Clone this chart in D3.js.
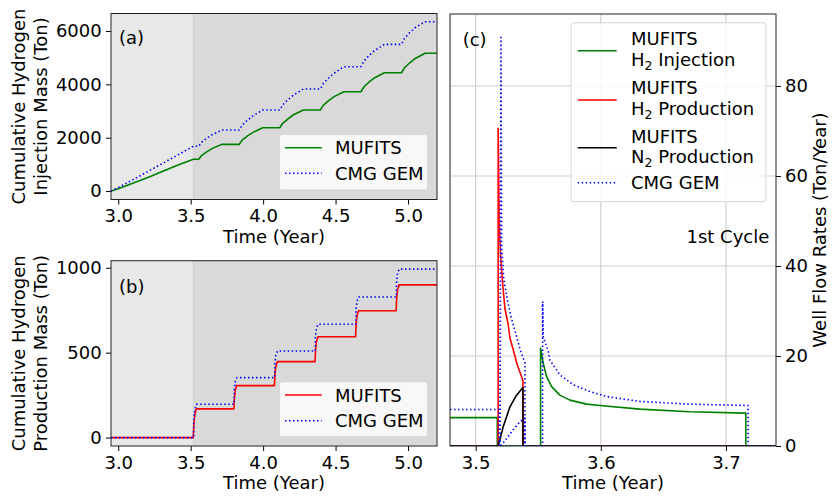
<!DOCTYPE html>
<html><head><meta charset="utf-8">
<script src="https://cdn.jsdelivr.net/npm/d3@7"></script>
<style>
body{margin:0;background:#fff}
svg{font-family:"DejaVu Sans",sans-serif}
</style></head><body>
<svg id="c" width="832" height="502"></svg>
<script>
// ---------- DATA ----------
const shadeStart = 3.518;
const ticksAB_x = [3.0, 3.5, 4.0, 4.5, 5.0];
const ticksA_y = [0, 2000, 4000, 6000];
const ticksB_y = [0, 500, 1000];
const ticksC_x = [3.5, 3.6, 3.7];
const ticksC_y = [0, 20, 40, 60, 80];

// (a) cumulative H2 injection mass (Ton)
const aMufits = [[2.95,0],[3.0,85],[3.1,290],[3.2,500],[3.3,720],[3.4,950],[3.518,1190],
 [3.555,1190],[3.575,1330],[3.61,1470],[3.65,1600],[3.717,1751],
 [3.835,1751],[3.855,1905],[3.89,2060],[3.93,2200],[3.997,2374],
 [4.115,2374],[4.135,2540],[4.17,2700],[4.21,2860],[4.277,3037],
 [4.395,3037],[4.415,3210],[4.45,3380],[4.49,3540],[4.557,3724],
 [4.675,3724],[4.695,3900],[4.73,4080],[4.77,4250],[4.837,4436],
 [4.955,4436],[4.975,4620],[5.01,4800],[5.05,4970],[5.117,5164],[5.2,5164]];
const aCmg = [[2.95,0],[3.0,130],[3.1,420],[3.2,720],[3.3,1020],[3.4,1320],[3.519,1680],
 [3.555,1680],[3.575,1830],[3.61,1980],[3.65,2120],[3.717,2287],
 [3.835,2287],[3.855,2470],[3.89,2650],[3.93,2820],[3.997,3037],
 [4.115,3037],[4.135,3230],[4.17,3420],[4.21,3600],[4.277,3825],
 [4.395,3825],[4.415,4030],[4.45,4230],[4.49,4420],[4.557,4662],
 [4.675,4662],[4.695,4870],[4.73,5080],[4.77,5270],[4.837,5501],
 [4.955,5501],[4.975,5720],[5.01,5930],[5.05,6130],[5.117,6349],[5.2,6349]];

// (b) cumulative H2 production mass (Ton)
const bMufits = [[2.95,0],[3.518,0],[3.522,80],[3.528,130],[3.538,169],
 [3.798,169],[3.802,235],[3.808,280],[3.818,306],
 [4.078,306],[4.082,375],[4.088,420],[4.098,447],
 [4.358,447],[4.362,520],[4.368,565],[4.378,594],
 [4.638,594],[4.642,670],[4.648,718],[4.658,747],
 [4.918,747],[4.922,825],[4.928,870],[4.938,899],[5.2,899]];
const bCmg = [[2.95,0],[3.52,0],[3.521,100],[3.528,160],[3.539,196],
 [3.80,196],[3.801,280],[3.808,330],[3.819,353],
 [4.08,353],[4.081,435],[4.088,485],[4.099,510],
 [4.36,510],[4.361,595],[4.368,645],[4.379,667],
 [4.64,667],[4.641,755],[4.648,805],[4.659,828],
 [4.92,828],[4.921,915],[4.928,968],[4.939,992],[5.2,992]];

// (c) well flow rates (Ton/Year), 1st cycle
const cMufitsH2Inj = [[3.4795,6.3],[3.5173,6.3],[3.5173,0],[3.5519,0],[3.5519,21.7],[3.554,18.4],
 [3.5567,15.4],[3.5607,13.2],[3.5673,11.3],[3.5753,10.2],[3.5887,9.3],[3.5993,9.0],
 [3.6312,8.2],[3.6711,7.6],[3.7159,7.3],[3.7159,0],[3.74,0]];
const cMufitsH2Prod = [[3.4795,0],[3.518,0],[3.518,70.6],[3.5188,50],[3.52,42],[3.5216,36],
 [3.5234,30.5],[3.526,27],[3.5274,24],[3.5314,20],[3.5327,18.5],[3.5367,15.4],[3.5378,14.5],
 [3.5378,0],[3.74,0]];
const cMufitsN2Prod = [[3.4795,0],[3.518,0],[3.5195,1.5],[3.522,4.3],[3.5274,8.7],[3.5327,11.3],
 [3.5378,13.0],[3.5378,0],[3.74,0]];
const cCmgH2Inj = [[3.4795,8.1],[3.5186,8.1],[3.5186,0],[3.5535,0],[3.5535,32.1],[3.554,24.3],
 [3.558,21],[3.5593,19.1],[3.5673,15.8],[3.578,13.6],[3.5913,12.1],[3.6046,11.0],
 [3.6312,9.9],[3.6711,9.3],[3.7177,9.0],[3.7177,0],[3.74,0]];
const cCmgH2Prod = [[3.5195,0],[3.5202,90.8],[3.5208,44],[3.5225,37],[3.525,33],[3.528,29],
 [3.532,25],[3.5355,21.5],[3.5394,18.5],[3.5394,0]];
const cCmgN2Prod = [[3.5202,0],[3.5248,1.7],[3.53,3.6],[3.5354,5.4],[3.5394,6.2],[3.5394,0]];

// ---------- DRAW ----------
const svg = d3.select("#c");
const FS = 18;
const GREEN = "#008000", RED = "#ff0000", BLUE = "#0000ff";
const DOT = "1.5,2.5";

function clip(id, x0, y0, x1, y1) {
  svg.append("clipPath").attr("id", id).append("rect")
    .attr("x", x0).attr("y", y0).attr("width", x1 - x0).attr("height", y1 - y0);
}
function drawLine(g, data, x, y, color, dash) {
  g.append("path").datum(data)
    .attr("d", d3.line().x(d => x(d[0])).y(d => y(d[1])))
    .attr("fill", "none").attr("stroke", color).attr("stroke-width", 1.6)
    .attr("stroke-dasharray", dash || null).attr("stroke-linejoin", "round");
}
function styleAxis(g) {
  g.select(".domain").remove();
  g.selectAll(".tick line").attr("stroke", "#000").attr("stroke-width", 1);
  g.selectAll(".tick text").attr("font-size", FS).attr("fill", "#000")
    .attr("font-family", "DejaVu Sans");
}
function spine(x0, y0, x1, y1) {
  svg.append("rect").attr("x", x0).attr("y", y0).attr("width", x1 - x0).attr("height", y1 - y0)
    .attr("fill", "none").attr("stroke", "#222").attr("stroke-width", 1);
}
function legend(x0, y0, x1, y1) {
  svg.append("rect").attr("x", x0).attr("y", y0).attr("width", x1 - x0).attr("height", y1 - y0)
    .attr("rx", 3).attr("fill", "#ffffff").attr("fill-opacity", 0.8)
    .attr("stroke", "#d6d6d6").attr("stroke-width", 1);
}
function handle(x0, x1, y, color, dash) {
  svg.append("line").attr("x1", x0).attr("x2", x1).attr("y1", y).attr("y2", y)
    .attr("stroke", color).attr("stroke-width", 1.6).attr("stroke-dasharray", dash || null);
}
function txt(x, y, s, anchor) {
  return svg.append("text").attr("x", x).attr("y", y).attr("font-size", FS)
    .attr("text-anchor", anchor || "start").attr("fill", "#000").text(s);
}
function subTxt(x, y, main, sub, rest) {
  const t = svg.append("text").attr("x", x).attr("y", y).attr("font-size", FS).attr("fill", "#000");
  t.append("tspan").text(main);
  t.append("tspan").attr("font-size", FS * 0.7).attr("dy", 4).text(sub);
  t.append("tspan").attr("dy", -4).text(rest);
  return t;
}
function ylab2(cx, cy, l1, l2) {
  const t = svg.append("text").attr("transform", `translate(${cx},${cy}) rotate(-90)`)
    .attr("font-size", FS).attr("text-anchor", "middle").attr("fill", "#000");
  t.append("tspan").attr("x", 0).attr("y", 0).text(l1);
  t.append("tspan").attr("x", 0).attr("y", 21.6).text(l2);
}

// ===== Panel (a) =====
const A = {l: 111, r: 437, t: 13.5, b: 199.5};
const xA = d3.scaleLinear().domain([2.95, 5.2]).range([A.l, A.r]);
const yA = d3.scaleLinear().domain([-317, 6657]).range([A.b, A.t]);
svg.append("rect").attr("x", A.l).attr("y", A.t).attr("width", xA(shadeStart) - A.l).attr("height", A.b - A.t).attr("fill", "#e8e8e8");
svg.append("rect").attr("x", xA(shadeStart)).attr("y", A.t).attr("width", A.r - xA(shadeStart)).attr("height", A.b - A.t).attr("fill", "#d9d9d9");
svg.append("line").attr("x1", xA(shadeStart)).attr("x2", xA(shadeStart)).attr("y1", A.t).attr("y2", A.b).attr("stroke", "#cfcfcf").attr("stroke-width", 1);
clip("clipA", A.l, A.t, A.r, A.b);
const gA = svg.append("g").attr("clip-path", "url(#clipA)");
drawLine(gA, aMufits, xA, yA, GREEN);
drawLine(gA, aCmg, xA, yA, BLUE, DOT);
svg.append("g").attr("transform", `translate(0,${A.b})`)
  .call(d3.axisBottom(xA).tickValues(ticksAB_x).tickFormat(d3.format(".1f")).tickSize(5).tickPadding(5)).call(styleAxis);
svg.append("g").attr("transform", `translate(${A.l},0)`)
  .call(d3.axisLeft(yA).tickValues(ticksA_y).tickFormat(d3.format("d")).tickSize(5).tickPadding(4.3)).call(styleAxis);
spine(A.l, A.t, A.r, A.b);
legend(279.3, 134.3, 427.7, 190);
handle(285, 321.7, 147.7, GREEN);
handle(285, 321.7, 173.3, BLUE, DOT);
txt(335, 154.3, "MUFITS");
txt(335, 180, "CMG GEM");
txt(119, 44, "(a)");
txt((A.l + A.r) / 2, A.b + 43, "Time (Year)", "middle");
ylab2(25, (A.t + A.b) / 2, "Cumulative Hydrogen", "Injection Mass (Ton)");

// ===== Panel (b) =====
const B = {l: 111, r: 437, t: 260.7, b: 446};
const xB = d3.scaleLinear().domain([2.95, 5.2]).range([B.l, B.r]);
const yB = d3.scaleLinear().domain([-49.6, 1041.6]).range([B.b, B.t]);
svg.append("rect").attr("x", B.l).attr("y", B.t).attr("width", xB(shadeStart) - B.l).attr("height", B.b - B.t).attr("fill", "#e8e8e8");
svg.append("rect").attr("x", xB(shadeStart)).attr("y", B.t).attr("width", B.r - xB(shadeStart)).attr("height", B.b - B.t).attr("fill", "#d9d9d9");
svg.append("line").attr("x1", xB(shadeStart)).attr("x2", xB(shadeStart)).attr("y1", B.t).attr("y2", B.b).attr("stroke", "#cfcfcf").attr("stroke-width", 1);
clip("clipB", B.l, B.t, B.r, B.b);
const gB = svg.append("g").attr("clip-path", "url(#clipB)");
drawLine(gB, bMufits, xB, yB, RED);
drawLine(gB, bCmg, xB, yB, BLUE, DOT);
svg.append("g").attr("transform", `translate(0,${B.b})`)
  .call(d3.axisBottom(xB).tickValues(ticksAB_x).tickFormat(d3.format(".1f")).tickSize(5).tickPadding(5)).call(styleAxis);
svg.append("g").attr("transform", `translate(${B.l},0)`)
  .call(d3.axisLeft(yB).tickValues(ticksB_y).tickFormat(d3.format("d")).tickSize(5).tickPadding(4.3)).call(styleAxis);
spine(B.l, B.t, B.r, B.b);
legend(279.3, 381.7, 427.7, 436.7);
handle(285, 321.7, 395, RED);
handle(285, 321.7, 420.7, BLUE, DOT);
txt(335, 401.7, "MUFITS");
txt(335, 426.7, "CMG GEM");
txt(119, 293, "(b)");
txt((B.l + B.r) / 2, B.b + 43, "Time (Year)", "middle");
ylab2(25, (B.t + B.b) / 2, "Cumulative Hydrogen", "Production Mass (Ton)");

// ===== Panel (c) =====
const C = {l: 450, r: 776, t: 14, b: 446};
const xC = d3.scaleLinear().domain([3.4795, 3.74]).range([C.l, C.r]);
const yC = d3.scaleLinear().domain([0, 96]).range([C.b, C.t]);
svg.append("rect").attr("x", C.l).attr("y", C.t).attr("width", C.r - C.l).attr("height", C.b - C.t).attr("fill", "#fff");
const grid = svg.append("g");
ticksC_x.forEach(v => grid.append("line").attr("x1", xC(v)).attr("x2", xC(v)).attr("y1", C.t).attr("y2", C.b)
  .attr("stroke", "#d0d0d0").attr("stroke-width", 1.2));
ticksC_y.filter(v => v > 0).forEach(v => grid.append("line").attr("x1", C.l).attr("x2", C.r).attr("y1", yC(v)).attr("y2", yC(v))
  .attr("stroke", "#d0d0d0").attr("stroke-width", 1.2));
clip("clipC", C.l, C.t, C.r, C.b);
const gC = svg.append("g").attr("clip-path", "url(#clipC)");
drawLine(gC, cMufitsH2Inj, xC, yC, GREEN);
drawLine(gC, cMufitsH2Prod, xC, yC, RED);
drawLine(gC, cMufitsN2Prod, xC, yC, "#000");
drawLine(gC, cCmgH2Inj, xC, yC, BLUE, DOT);
drawLine(gC, cCmgH2Prod, xC, yC, BLUE, DOT);
drawLine(gC, cCmgN2Prod, xC, yC, BLUE, DOT);
svg.append("g").attr("transform", `translate(0,${C.b})`)
  .call(d3.axisBottom(xC).tickValues(ticksC_x).tickFormat(d3.format(".1f")).tickSize(5).tickPadding(5)).call(styleAxis);
svg.append("g").attr("transform", `translate(${C.r},0)`)
  .call(d3.axisRight(yC).tickValues(ticksC_y).tickFormat(d3.format("d")).tickSize(5).tickPadding(4)).call(styleAxis);
spine(C.l, C.t, C.r, C.b);
legend(571, 22.7, 766, 201.7);
handle(577.7, 616.7, 50.7, GREEN);
handle(577.7, 616.7, 100, RED);
handle(577.7, 616.7, 147.7, "#000");
handle(577.7, 616.7, 182.7, BLUE, DOT);
txt(631, 45, "MUFITS");
subTxt(631, 66, "H", "2", " Injection");
txt(631, 94.3, "MUFITS");
subTxt(631, 115, "H", "2", " Production");
txt(631, 142.7, "MUFITS");
subTxt(631, 163.3, "N", "2", " Production");
txt(631, 189.3, "CMG GEM");
txt(462.7, 46, "(c)");
txt(769.3, 243, "1st Cycle", "end");
txt((C.l + C.r) / 2, C.b + 43, "Time (Year)", "middle");
svg.append("text").attr("transform", `translate(826,${(C.t + C.b) / 2}) rotate(-90)`)
  .attr("font-size", FS).attr("text-anchor", "middle").attr("fill", "#000").text("Well Flow Rates (Ton/Year)");
</script>
</body></html>
